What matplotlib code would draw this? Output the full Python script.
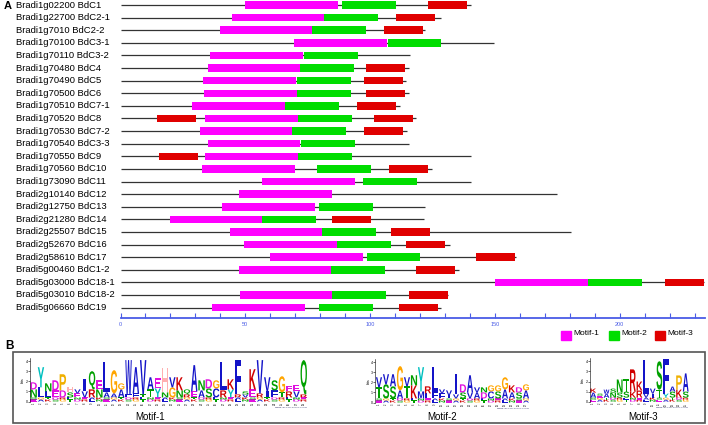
import matplotlib
matplotlib.use("Agg")
import matplotlib.pyplot as plt
import matplotlib.transforms as mtransforms
from matplotlib.patches import PathPatch, Rectangle
from matplotlib.textpath import TextPath
from matplotlib.font_manager import FontProperties

plt.rcParams['font.family'] = ['Liberation Sans', 'DejaVu Sans']

# ---- panel A data (positions in amino acids) ----
genes = ["Bradi1g02200 BdC1", "Bradi1g22700 BdC2-1", "Bradi1g7010 BdC2-2",
         "Bradi1g70100 BdC3-1", "Bradi1g70110 BdC3-2", "Bradi1g70480 BdC4",
         "Bradi1g70490 BdC5", "Bradi1g70500 BdC6", "Bradi1g70510 BdC7-1",
         "Bradi1g70520 BdC8", "Bradi1g70530 BdC7-2", "Bradi1g70540 BdC3-3",
         "Bradi1g70550 BdC9", "Bradi1g70560 BdC10", "Bradi1g73090 BdC11",
         "Bradi2g10140 BdC12", "Bradi2g12750 BdC13", "Bradi2g21280 BdC14",
         "Bradi2g25507 BdC15", "Bradi2g52670 BdC16", "Bradi2g58610 BdC17",
         "Bradi5g00460 BdC1-2", "Bradi5g03000 BdC18-1", "Bradi5g03010 BdC18-2",
         "Bradi5g06660 BdC19"]
lengths = [140.4, 128.4, 122, 149.8, 116.1, 115.7, 114.3, 115.7, 111.9, 118.3,
           114.7, 115.7, 140.4, 124.9, 140.4, 175, 122, 121.7, 180.5, 132,
           158.6, 135.5, 233.8, 131.2, 128.3]
motif1_start = [49.8, 44.7, 39.7, 69.6, 36, 34.9, 33.2, 33.6, 28.8, 33.9,
                31.9, 34.9, 33.9, 32.8, 56.7, 47.4, 40.7, 20, 43.7, 49.6,
                59.9, 47.6, 150.2, 47.8, 36.8]
motif2_start = [88.6, 81.5, 76.7, 107, 73.4, 71.8, 70.7, 70.8, 65.9, 71.1,
                68.9, 72.3, 71.2, 78.7, 97.3, None, 79.5, 56.8, 80.7, 86.6,
                98.6, 84.5, 187.3, 84.6, 79.6]
motif3_start = [[123.3], [110.5], [105.6], [], [], [98.5], [97.6], [98.5], [94.8],
                [14.6, 101.6], [97.6], [], [15.4], [107.6], [], [], [], [84.6],
                [108.4], [114.5], [142.4], [118.5], [218], [115.6], [111.6]]
motif_width = [37.2, 21.6, 15.6]
motif_names = ["Motif-1", "Motif-2", "Motif-3"]
motif_colors = ["#FF00FF", "#00DD00", "#E00000"]

# ---- panel B data: logo columns (top letter, height, second letter, height) ----
m1_top = "DYNDPHVIQELGGWAVAEHVKQANDGLKFSKVVSGEEQ"
m1_top_h = [0.7, 2.0, 0.8, 1.0, 1.6, 0.5, 0.4, 1.2, 1.8, 0.9, 3.0, 2.3, 0.6, 3.4,
            2.6, 3.4, 1.2, 1.0, 2.4, 1.0, 1.3, 0.5, 2.6, 1.0, 0.9, 0.8, 2.8, 1.0,
            3.4, 0.3, 2.0, 3.3, 1.4, 1.0, 1.6, 0.5, 0.6, 3.4]
m1_sec = "NLLEDSEVRNAAAFFTTYNGNREASCRYRVERIFTRVRS"
m1_sec_h = [0.8, 1.0, 0.6, 0.7, 0.7, 0.5, 0.4, 0.6, 0.8, 0.8, 0.5, 0.4, 0.8, 0.3,
            0.4, 0.3, 0.8, 0.9, 0.5, 1.0, 0.7, 0.3, 0.6, 0.7, 0.9, 0.9, 0.7, 0.8,
            0.3, 0.3, 0.8, 0.4, 0.6, 0.7, 0.5, 0.6, 0.6, 0.3]

m2_top = "VVAGVNYRLVVIDAVNGGGKDG"
m2_top_h = [1.0, 1.0, 1.2, 2.4, 0.9, 1.0, 2.4, 0.7, 2.5, 0.4, 0.5, 2.0, 0.8, 1.7,
            0.5, 0.5, 0.6, 0.6, 1.2, 0.7, 0.5, 0.6]
m2_sec = "TSSATKMLFFIVSVADCSAASA"
m2_sec_h = [1.1, 1.4, 1.2, 0.8, 1.2, 1.3, 0.7, 0.5, 0.6, 0.5, 0.3, 0.4, 0.6, 0.6,
            0.6, 0.6, 0.7, 0.7, 0.9, 0.6, 0.6, 0.8]

m3_top = "KSWSNTRKLVSFAPA"
m3_top_h = [0.4, 0.2, 0.4, 0.4, 1.3, 1.2, 2.2, 0.9, 3.3, 0.5, 2.8, 3.4, 0.5, 1.4, 1.8]
m3_sec = "AEANSSKRVITYSKS"
m3_sec_h = [0.5, 0.2, 0.4, 0.5, 0.5, 0.6, 0.6, 0.7, 0.4, 0.4, 0.8, 0.4, 0.6, 0.8, 0.6]

base_letters = "EAKSGTDRLN"

aa_colors = {}
for c in "ACFILMVW":
    aa_colors[c] = "#1414C8"
for c in "NQST":
    aa_colors[c] = "#00A000"
for c in "DE":
    aa_colors[c] = "#E010E0"
for c in "KR":
    aa_colors[c] = "#D00000"
aa_colors.update({"H": "#FFB0B0", "G": "#FFA500", "P": "#F0B000", "Y": "#00C0C0"})

W, H = 708, 425
fig = plt.figure(figsize=(W / 100, H / 100), dpi=100)


def fx(px):
    return px / W


def fy(py):
    return 1 - py / H


# ---------------- panel A ----------------
ax = fig.add_axes([fx(120.5), fy(318.3), (704.5 - 120.5) / W, 318.3 / H])
ax.set_xlim(0, 234)
ax.set_ylim(24.85, -0.40)

rows = list(range(len(genes)))
for i in rows:
    ax.plot([0, lengths[i]], [i, i], color="#333333", lw=0.9, zorder=1,
            solid_capstyle="butt")

m1_rows = [i for i in rows if motif1_start[i] is not None]
ax.barh(m1_rows, motif_width[0], left=[motif1_start[i] for i in m1_rows],
        height=0.6, color=motif_colors[0], zorder=2)
m2_rows = [i for i in rows if motif2_start[i] is not None]
ax.barh(m2_rows, motif_width[1], left=[motif2_start[i] for i in m2_rows],
        height=0.6, color=motif_colors[1], zorder=2)
m3_rows = [i for i in rows for s in motif3_start[i]]
m3_left = [s for i in rows for s in motif3_start[i]]
ax.barh(m3_rows, motif_width[2], left=m3_left, height=0.6,
        color=motif_colors[2], zorder=2)

lab_tr = mtransforms.blended_transform_factory(fig.transFigure, ax.transData)
for i, g in enumerate(genes):
    ax.text(fx(16), i, g, transform=lab_tr, fontsize=6.8, va="center", ha="left")

for s in ["left", "top", "right"]:
    ax.spines[s].set_visible(False)
ax.spines["bottom"].set_color("#4A5CE6")
ax.spines["bottom"].set_linewidth(1.3)
ax.set_yticks([])
ax.set_xticks([0, 50, 100, 150, 200])
ax.set_xticks(range(0, 240, 10), minor=True)
ax.tick_params(axis="x", which="both", direction="in", length=3.5, width=0.8,
               colors="#4A5CE6", labelsize=4, pad=3)

fig.text(fx(4), fy(6), "A", fontsize=8, weight="bold", va="center", ha="left")
fig.text(fx(5), fy(346), "B", fontsize=8.5, weight="bold", va="center", ha="left")

# legend
leg_x = [561, 609, 655]
for k in range(3):
    fig.add_artist(Rectangle((fx(leg_x[k]), fy(339.5)), 10 / W, 9 / H,
                             transform=fig.transFigure, color=motif_colors[k]))
    fig.text(fx(leg_x[k] + 12.5), fy(333.5), motif_names[k], fontsize=6,
             va="center", ha="left")

# ---------------- panel B ----------------
fig.add_artist(Rectangle((fx(12.7), fy(422.5)), (705 - 12.7) / W, (422.5 - 352) / H,
                         transform=fig.transFigure, fill=False, ec="#555555", lw=1.2))

prop = FontProperties(family="Liberation Sans", weight="bold")


def draw_letter(lax, ch, xc, y, w, h):
    tp = TextPath((0, 0), ch, size=1, prop=prop)
    bb = tp.get_extents()
    if ch == "I":
        w = w * 0.4
    t = (mtransforms.Affine2D().translate(-bb.x0, -bb.y0)
         .scale(w / bb.width, h / bb.height).translate(xc - w / 2, y))
    lax.add_patch(PathPatch(t.transform_path(tp), fc=aa_colors.get(ch, "#888888"),
                            ec="none", lw=0))


def draw_logo(left, step, base_y, top, top_h, sec, sec_h, label, label_x):
    n = len(top)
    ppb = 10.1
    lax = fig.add_axes([fx(left), fy(base_y), n * step / W, 4.3 * ppb / H])
    lax.set_xlim(0.5, n + 0.5)
    lax.set_ylim(0, 4.3)
    for k in range(n):
        xc = k + 1
        y = 0
        for j in range(2):
            ch = base_letters[(k + 3 * j) % len(base_letters)]
            draw_letter(lax, ch, xc, y, 0.88, 0.2)
            y += 0.2
        draw_letter(lax, sec[k], xc, y, 0.88, sec_h[k])
        y += sec_h[k]
        draw_letter(lax, top[k], xc, y, 0.88, top_h[k])
    for s in ["top", "right", "bottom"]:
        lax.spines[s].set_visible(False)
    lax.spines["left"].set_linewidth(0.4)
    lax.set_yticks([0, 1, 2, 3, 4])
    lax.set_xticks(range(1, n + 1))
    lax.tick_params(axis="y", length=1.2, width=0.4, labelsize=2.6, pad=0.6)
    lax.tick_params(axis="x", length=0, labelsize=1.8, pad=0.8, labelrotation=90)
    lax.set_ylabel("bits", fontsize=2.6, labelpad=0.5)
    lax.text(n + 0.4, -0.55, "MEME (no SSC) 23.10.14 11:32", fontsize=1.6,
             color="#333366", ha="right", va="top")
    fig.text(fx(label_x), fy(417), label, fontsize=7, ha="center", va="center")
    return lax


draw_logo(30, 7.3, 401.5, m1_top, m1_top_h, m1_sec, m1_sec_h, "Motif-1", 150)
draw_logo(375.5, 7.0, 402.5, m2_top, m2_top_h, m2_sec, m2_sec_h, "Motif-2", 442)
draw_logo(590, 6.6, 401.7, m3_top, m3_top_h, m3_sec, m3_sec_h, "Motif-3", 643)

fig.savefig("out.png", dpi=100)
